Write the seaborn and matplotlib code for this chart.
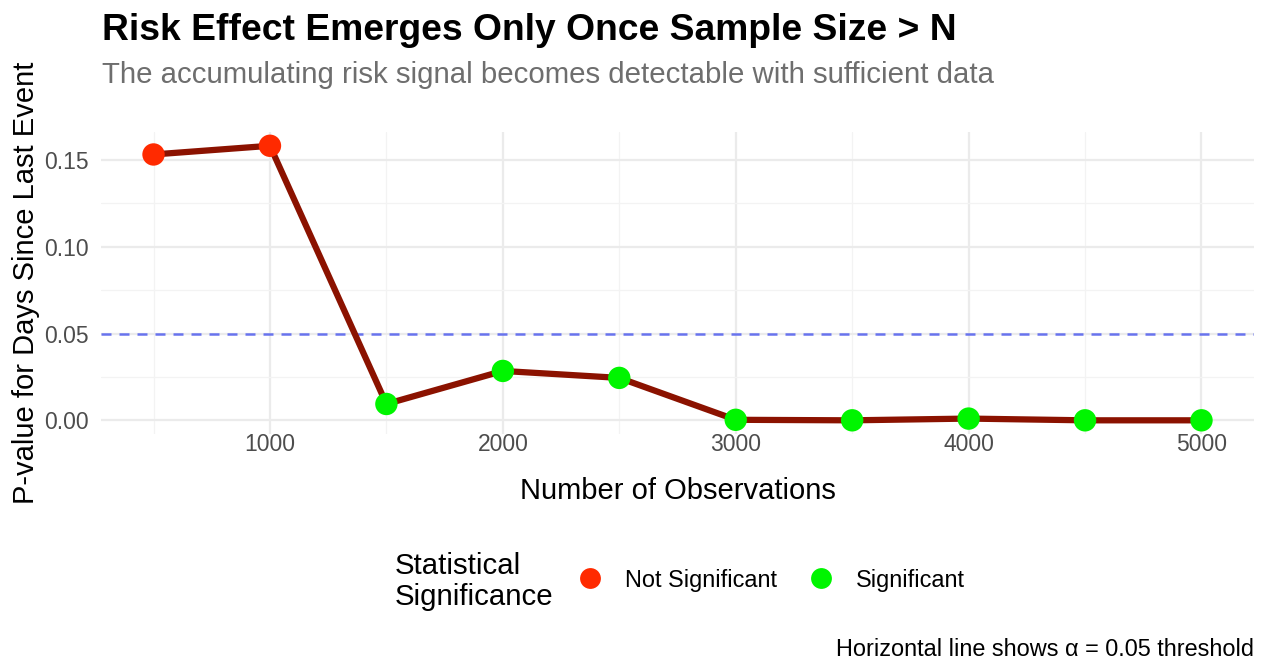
import seaborn as sns
from matplotlib import pyplot as plt
from matplotlib.ticker import MultipleLocator
import pandas as pd

# values
observations = [500, 1000, 1500, 2000, 2500, 3000, 3500, 4000, 4500, 5000]
p_values = [0.153, 0.158, 0.0095, 0.0285, 0.0245, 0.0004, 0.0001, 0.0011, 0.0001, 0.0001]
alpha = 0.05
significance = ["Significant" if p < alpha else "Not Significant" for p in p_values]
colors = {"Not Significant": "#FF2A00", "Significant": "#00F500"}

df = pd.DataFrame({"n": observations, "p": p_values, "sig": significance})

sns.set_theme(style="whitegrid")
plt.rcParams["font.family"] = ["Liberation Sans", "DejaVu Sans"]
plt.rcParams["text.color"] = "black"

fig = plt.figure(figsize=(12.64, 6.66), dpi=100)
ax = fig.add_axes([0.080, 0.348, 0.912, 0.454])

ax.axhline(alpha, color="#5A66EE", linestyle=(0, (4, 3.2)), linewidth=1.8, alpha=0.9, zorder=2)
sns.lineplot(data=df, x="n", y="p", color="#8B1200", linewidth=4.5, ax=ax, zorder=3)
sns.scatterplot(data=df, x="n", y="p", hue="sig", palette=colors, s=260,
                edgecolor="none", ax=ax, zorder=4, legend=False)

ax.set_xlim(275, 5225)
ax.set_ylim(-0.0079, 0.166)
ax.xaxis.set_major_locator(MultipleLocator(1000))
ax.xaxis.set_minor_locator(MultipleLocator(500))
ax.yaxis.set_major_locator(MultipleLocator(0.05))
ax.yaxis.set_minor_locator(MultipleLocator(0.025))
ax.yaxis.set_major_formatter(lambda v, pos: f"{v:.2f}")
ax.grid(which="major", color="#EBEBEB", linewidth=1.6)
ax.grid(which="minor", color="#F3F3F3", linewidth=0.9)
for s in ax.spines.values():
    s.set_visible(False)
ax.tick_params(axis="both", which="both", length=0, labelsize=16.5, labelcolor="#4D4D4D")
ax.tick_params(axis="x", pad=-1)
ax.tick_params(axis="y", pad=9)

ax.set_xlabel("Number of Observations", fontsize=21, color="black", labelpad=15)
ax.set_ylabel("P-value for Days Since Last Event", fontsize=21, color="black", labelpad=3)

fig.text(0.081, 0.940, "Risk Effect Emerges Only Once Sample Size > N", fontsize=26.8,
         fontweight="bold", ha="left", va="baseline")
fig.text(0.081, 0.876, "The accumulating risk signal becomes detectable with sufficient data",
         fontsize=21.2, color="#6E6E6E", ha="left", va="baseline")

# legend along the bottom, title to the left of the keys
handles = [plt.Line2D([], [], marker="o", linestyle="", markersize=15,
                      markerfacecolor=colors[k], markeredgecolor="none") for k in colors]
fig.legend(handles, list(colors), loc="center left", bbox_to_anchor=(0.439, 0.129),
           ncol=2, frameon=False, fontsize=16.9, handletextpad=0.9, columnspacing=1.25,
           handlelength=1.2)
fig.text(0.312, 0.127, "Statistical\nSignificance", fontsize=21.2, ha="left", va="center",
         linespacing=1.12)

fig.text(0.992, 0.015, "Horizontal line shows \u03b1 = 0.05 threshold", fontsize=16.9,
         ha="right", va="baseline")

fig.savefig("out.png", dpi=100)
